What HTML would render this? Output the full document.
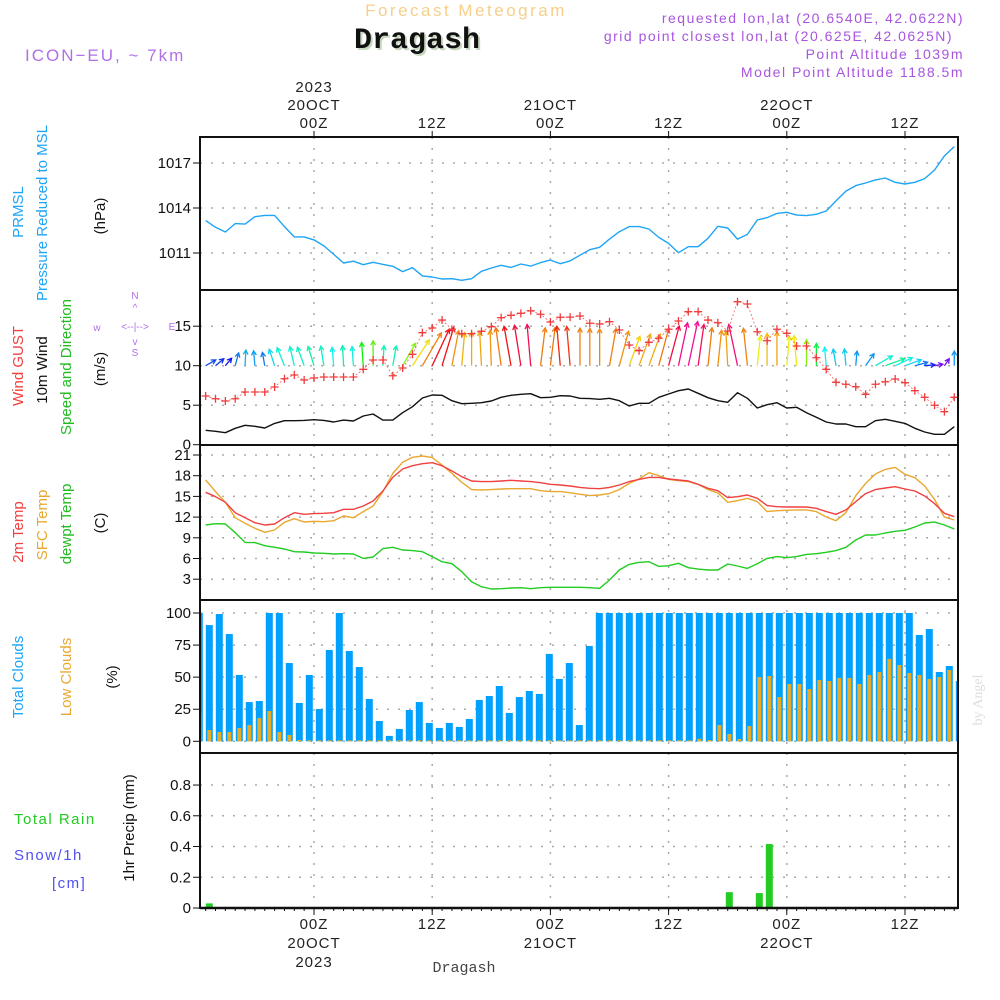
<!DOCTYPE html>
<html><head><meta charset="utf-8"><title>Forecast Meteogram - Dragash</title>
<style>
html,body{margin:0;padding:0;background:#fff;}
svg{display:block;font-family:"Liberation Sans",sans-serif;}
.tk{font-size:15px;fill:#111;}
.ax{font-size:15px;fill:#222;letter-spacing:1px;}
</style></head>
<body>
<svg id="chart" width="1000" height="1000" viewBox="0 0 1000 1000" xmlns="http://www.w3.org/2000/svg">
<rect width="1000" height="1000" fill="#fff"/>
<text x="466" y="16" text-anchor="middle" font-size="17" fill="#f6cf8a" letter-spacing="2.5">Forecast Meteogram</text>
<text x="419" y="50" text-anchor="middle" font-family="'Liberation Mono',monospace" font-weight="bold" font-size="30" fill="#c8d8c0">Dragash</text>
<text x="417" y="48" text-anchor="middle" font-family="'Liberation Mono',monospace" font-weight="bold" font-size="30" fill="#111">Dragash</text>
<text x="25" y="61" font-size="17" fill="#b070e8" letter-spacing="2">ICON−EU, ~ 7km</text>
<g font-size="14" fill="#a855e0" text-anchor="end" letter-spacing="1.5">
<text x="964" y="23">requested lon,lat (20.6540E, 42.0622N)</text>
<text x="953" y="41">grid point closest lon,lat (20.625E, 42.0625N)</text>
<text x="964" y="59">Point Altitude 1039m</text>
<text x="964" y="77">Model Point Altitude 1188.5m</text>
</g>
<g id="grid"></g>
<g id="marks"></g>
<g id="frames"></g>
<g id="labels"></g>
<g font-size="15">
<text transform="translate(23,212) rotate(-90)" text-anchor="middle" fill="#1ea5f5">PRMSL</text>
<text transform="translate(47,213) rotate(-90)" text-anchor="middle" fill="#1ea5f5">Pressure Reduced to MSL</text>
<text transform="translate(105,216) rotate(-90)" text-anchor="middle" fill="#111">(hPa)</text>
</g>
<g font-size="15">
<text transform="translate(23,366) rotate(-90)" text-anchor="middle" fill="#f04040">Wind GUST</text>
<text transform="translate(47,370) rotate(-90)" text-anchor="middle" fill="#111">10m Wind</text>
<text transform="translate(71,367) rotate(-90)" text-anchor="middle" fill="#22bb22">Speed and Direction</text>
<text transform="translate(105,369) rotate(-90)" text-anchor="middle" fill="#111">(m/s)</text>
</g>
<g font-size="10" fill="#b070e8" text-anchor="middle">
<text x="135" y="299">N</text>
<text x="135" y="311">^</text>
<text x="97" y="331">w</text>
<text x="135" y="330">&lt;--|--&gt;</text>
<text x="172" y="330">E</text>
<text x="135" y="345">v</text>
<text x="135" y="356">S</text>
</g>
<g font-size="15">
<text transform="translate(23,532) rotate(-90)" text-anchor="middle" fill="#f04040">2m Temp</text>
<text transform="translate(47,525) rotate(-90)" text-anchor="middle" fill="#e8a830">SFC Temp</text>
<text transform="translate(71,524) rotate(-90)" text-anchor="middle" fill="#22bb22">dewpt Temp</text>
<text transform="translate(105,523) rotate(-90)" text-anchor="middle" fill="#111">(C)</text>
</g>
<g font-size="15">
<text transform="translate(23,677) rotate(-90)" text-anchor="middle" fill="#1ea5f5">Total Clouds</text>
<text transform="translate(71,677) rotate(-90)" text-anchor="middle" fill="#e8a830">Low Clouds</text>
<text transform="translate(117,677) rotate(-90)" text-anchor="middle" fill="#111">(%)</text>
</g>
<g>
<text transform="translate(134,828) rotate(-90)" text-anchor="middle" font-size="15" fill="#111">1hr Precip (mm)</text>
<text x="14" y="824" font-size="15" fill="#22cc22" letter-spacing="1.5">Total  Rain</text>
<text x="14" y="860" font-size="15" fill="#5050f0" letter-spacing="1.5">Snow/1h</text>
<text x="52" y="888" font-size="15" fill="#5050f0" letter-spacing="1.5">[cm]</text>
</g>
<text x="464" y="972" text-anchor="middle" font-family="'Liberation Mono',monospace" font-size="15" fill="#444">Dragash</text>
<text transform="translate(982,700) rotate(-90)" text-anchor="middle" font-family="'Liberation Serif',serif" font-size="14" fill="#ddd">by Angel</text>
</svg>
<script>
// ---------- data ----------
const hourStart = -11; // hours relative to 00Z 20OCT2023
const pressure = [1013.16,1012.71,1012.4,1012.96,1012.93,1013.42,1013.51,1013.51,1012.76,1012.07,1012.07,1011.87,1011.47,1010.91,1010.33,1010.45,1010.22,1010.38,1010.24,1010.11,1009.76,1010.02,1009.47,1009.4,1009.27,1009.29,1009.18,1009.29,1009.78,1010.0,1010.18,1010.04,1010.27,1010.13,1010.36,1010.53,1010.29,1010.47,1010.85,1011.22,
1011.38,1011.93,1012.42,1012.76,1012.76,1012.6,1012.04,1011.64,1011.02,1011.42,1011.42,1011.98,1012.78,1012.67,1011.93,1012.24,1013.2,1013.36,1013.64,1013.71,1013.53,1013.49,1013.58,1013.8,1014.47,1015.13,1015.49,1015.67,1015.87,1016.0,1015.71,1015.6,1015.71,1015.96,1016.53,1017.47,1018.09];
const wind10 = [1.82,1.69,1.52,2.07,2.45,2.33,2.11,2.7,3.04,3.04,3.08,3.16,3.08,2.87,3.12,3.0,3.63,3.89,3.12,3.12,4.05,4.81,5.91,6.29,6.25,5.57,5.19,5.24,5.32,5.53,6.0,6.25,6.38,6.46,5.95,6.0,6.2,6.16,5.87,5.83,
5.75,5.87,5.57,4.9,5.24,5.24,6.0,6.42,6.84,7.05,6.5,5.95,5.57,5.37,6.58,5.87,4.65,5.06,5.32,4.65,4.73,4.05,3.47,2.87,2.62,2.62,2.28,2.28,3.04,3.21,2.96,2.7,2.07,1.61,1.32,1.32,2.28];
const gust = [6.16,5.82,5.53,5.82,6.67,6.67,6.67,7.3,8.35,8.82,8.19,8.44,8.57,8.57,8.57,8.57,9.54,10.72,10.72,8.73,9.71,11.44,14.18,14.77,15.78,14.6,14.05,14.05,14.35,14.94,16.08,16.38,16.63,16.96,16.51,15.53,16.13,16.15,16.29,15.37,
15.28,15.57,14.52,12.62,11.9,12.96,13.47,14.61,15.66,16.84,16.84,15.78,15.44,14.39,18.1,17.81,14.3,13.16,14.61,14.1,12.49,12.49,11.01,9.54,7.9,7.65,7.34,6.38,7.65,7.97,8.32,7.85,6.84,6.0,4.99,4.18,6.0];
const windDir = [60,50,40,15,3,-5,-10,-18,-22,-13,-20,-17,-9,-5,-3,-4,-4,0,3,10,30,33,30,25,17,11,5,0,-3,-2,-8,-10,-9,-5,7,7,-5,-5,0,0,
0,10,15,20,20,20,15,15,12,12,8,6,6,-3,-12,-6,6,0,0,5,-5,0,0,-5,-10,-5,5,35,60,70,65,70,75,85,80,35,0];
const t2m = [15.59,14.96,14.14,12.64,11.92,11.19,10.86,11.0,11.92,12.64,12.4,12.5,12.55,12.64,13.13,13.13,13.61,14.33,15.78,17.76,18.97,19.45,19.74,19.89,19.45,18.68,17.86,17.23,17.14,17.14,17.23,17.33,17.23,17.14,16.99,16.75,16.65,16.51,16.31,16.17,
16.12,16.31,16.65,17.14,17.47,17.76,17.76,17.52,17.38,17.23,16.75,16.17,15.83,14.82,14.96,15.2,14.72,13.66,13.51,13.46,13.46,13.46,13.27,12.79,12.4,13.04,14.24,15.4,15.98,16.22,16.41,16.07,15.78,15.06,13.95,12.55,12.06];
const tsfc = [17.38,15.69,14.14,11.92,11.1,10.37,9.8,10.13,11.24,11.77,11.29,11.39,11.34,11.48,12.16,11.92,12.79,13.61,15.69,18.34,19.94,20.66,20.86,20.62,19.55,18.34,17.04,15.98,15.93,15.98,16.07,16.12,16.12,16.12,15.83,15.69,15.69,15.54,15.3,15.11,
15.2,15.44,15.98,16.89,17.52,18.44,18.0,17.47,17.28,17.14,16.75,15.98,15.5,14.14,14.38,14.72,14.24,12.79,12.93,12.98,13.04,13.04,12.79,12.01,11.48,12.64,15.11,16.89,18.25,18.92,19.21,18.2,17.71,16.51,14.57,12.0,11.58];
const dewpt = [10.86,11.05,11.0,9.74,8.34,8.3,7.86,7.62,7.38,6.99,6.94,6.8,6.75,6.65,6.7,6.65,6.02,6.22,7.43,7.62,7.23,7.14,6.99,6.27,5.54,5.25,4.09,2.64,1.92,1.58,1.63,1.72,1.77,1.63,1.77,1.82,1.82,1.82,1.82,1.77,
1.68,2.88,4.33,5.15,5.44,5.54,4.86,4.96,5.3,4.67,4.47,4.33,4.33,5.2,4.91,4.57,5.25,6.02,6.27,6.12,6.27,6.6,6.7,6.9,7.14,7.62,8.68,9.41,9.41,9.7,9.94,10.09,10.57,11.14,11.28,10.86,10.28];
const totalCloud = [100,90.6,99.2,83.6,51.7,30.6,31.4,100,100,61,29.9,51.7,25.2,71.2,100,70.4,57.9,33,15.8,4.2,9.6,24.4,30.6,14.3,10.4,14.3,11.2,17.4,32.2,35.3,43.1,22.1,34.5,39.2,36.9,68.1,48.6,61,12.7,74.3,
100,100,100,100,100,100,100,100,100,100,100,100,100,100,100,100,100,100,100,100,100,100,100,100,100,100,100,100,100,100,100,100,82.9,87.5,54,58.7,47];
const lowCloud = [22.1,8.8,7.3,7.3,10.4,12.7,18.2,23.6,7.3,4.9,1,0,0,0,0,0,0,0,0,0,0,0,0,0,0,0,0,0,0,0,0,0,0,0,0,0,0,0,0,0,
0,0,0,0,0,0,0,0,0,0,2,1,12.7,5.7,1.8,11.9,50.1,50.9,34.5,44.7,44.7,40.8,47.8,47,49.4,49.4,44.7,51.7,54,64.2,59.5,53.2,51.7,48.6,50.1,55.6,47];
const precip = [0,0.03,0,0,0,0,0,0,0,0,0,0,0,0,0,0,0,0,0,0,0,0,0,0,0,0,0,0,0,0,0,0,0,0,0,0,0,0,0,0,
0,0,0,0,0,0,0,0,0,0,0,0,0,0.103,0.008,0,0.097,0.416,0,0,0,0,0,0,0,0,0,0,0,0,0,0,0,0,0,0,0];
const pTicks = [1011,1014,1017];
const wTicks = [0,5,10,15];
const tTicks = [3,6,9,12,15,18,21];
const cTicks = [0,25,50,75,100];
const rTicks = [0,0.2,0.4,0.6,0.8];
const timeTicks = [0,12,24,36,48,60];
const timeLabels = ["00Z","12Z","00Z","12Z","00Z","12Z"];
const dayLabels = ["20OCT","","21OCT","","22OCT",""];

// ---------- layout / axes ----------
const L=200,R=958;
const P={p:[137,290],w:[290,445],t:[445,600],c:[600,753],r:[753,908]};
const xH = h => 314 + h*9.85;
const xI = i => xH(hourStart + i);
const xB = i => 199.3 + i*10;
const yP = v => 163 + (1017 - v)*15;
const yW = v => 444.7 - v*7.9;
const yT = v => 455 + (21 - v)*6.9;
const yC = v => 741.3 - v*1.283;
const yR = v => 908 - v*153.7;
const NS="http://www.w3.org/2000/svg";
function mk(tag, attrs, parent){const e=document.createElementNS(NS,tag);for(const k in attrs)e.setAttribute(k,attrs[k]);parent.appendChild(e);return e;}
const grid=document.getElementById('grid'), marks=document.getElementById('marks'), frames=document.getElementById('frames'), labels=document.getElementById('labels');

const defs=mk('defs',{},document.getElementById('chart'));
const cp=mk('clipPath',{id:'plotclip'},defs);
mk('rect',{x:L,y:137,width:R-L,height:771},cp);
marks.setAttribute('clip-path','url(#plotclip)');

function yAxis(ticks, yf, panel, fmt, name){
  ticks.forEach(v=>{
    const y=yf(v);
    if(y>panel[0]+2 && y<panel[1]-2){
      const g=mk('line',{x1:L,x2:R,y1:y,y2:y,stroke:'#aaa','stroke-width':1.5,'stroke-dasharray':'2,9'},grid);
      
      
    }
    const t=mk('line',{x1:L-7,x2:L,y1:y,y2:y,stroke:'#111','stroke-width':1},labels);
    
    
    const tx=mk('text',{x:L-9,y:y+5,'text-anchor':'end',class:'tk'},labels);
    tx.textContent=fmt(v);
    
    
  });
}
yAxis(pTicks,yP,P.p,v=>v,'pressure-axis');
yAxis(wTicks,yW,P.w,v=>v,'wind-axis');
yAxis(tTicks,yT,P.t,v=>v,'temp-axis');
yAxis(cTicks,yC,P.c,v=>v,'cloud-axis');
yAxis(rTicks,yR,P.r,v=>v===0?'0':v.toFixed(1),'precip-axis');

timeTicks.forEach((h,k)=>{
  const x=xH(h);
  const g=mk('line',{x1:x,x2:x,y1:137,y2:908,stroke:'#aaa','stroke-width':1.5,'stroke-dasharray':'2,9'},grid);
  
  
  mk('line',{x1:x,x2:x,y1:131,y2:137,stroke:'#111'},labels);
  mk('line',{x1:x,x2:x,y1:908,y2:915,stroke:'#111'},labels);
  const a=mk('text',{x:x,y:128,'text-anchor':'middle',class:'ax'},labels); a.textContent=timeLabels[k];
  
  
  const b=mk('text',{x:x,y:929,'text-anchor':'middle',class:'ax'},labels); b.textContent=timeLabels[k];
  
  
  if(dayLabels[k]){
    const c=mk('text',{x:x,y:110,'text-anchor':'middle',class:'ax'},labels); c.textContent=dayLabels[k];
    
    
    const d=mk('text',{x:x,y:948,'text-anchor':'middle',class:'ax'},labels); d.textContent=dayLabels[k];
    
    
  }
});
const y1=mk('text',{x:xH(0),y:92,'text-anchor':'middle',class:'ax'},labels); y1.textContent='2023';


const y2=mk('text',{x:xH(0),y:967,'text-anchor':'middle',class:'ax'},labels); y2.textContent='2023';


for(let h=-11;h<=65;h++){ mk('line',{x1:xH(h),x2:xH(h),y1:908,y2:911,stroke:'#111','stroke-width':1},labels); }

function line(arr, xf, yf, color, width, name, dash){
  const pts=arr.map((v,i)=>xf(i).toFixed(1)+','+yf(v).toFixed(1)).join(' ');
  const a={points:pts,fill:'none',stroke:color,'stroke-width':width,'stroke-linejoin':'round'};
  if(dash)a['stroke-dasharray']=dash;
  const e=mk('polyline',a,marks);
  
  
  return e;
}
line(pressure,xI,yP,'#1ea5f5',1.4,'pressure-line');

totalCloud.forEach((v,i)=>{
  const x=xB(i), y=yC(v);
  const r=mk('rect',{x:x-3.5,y:y,width:7,height:yC(0)-y,fill:'#00a0ff'},marks);
  
  
});
lowCloud.forEach((v,i)=>{
  const x=xB(i), y=yC(v);
  const r=mk('rect',{x:x-2,y:Math.min(y,yC(0)-1),width:4,height:Math.max(yC(0)-y,1),fill:'#e8ac2c'},marks);
  
  
});
precip.forEach((v,i)=>{
  if(v<=0)return;
  const x=xB(i), y=yR(v);
  const r=mk('rect',{x:x-3.5,y:y,width:7,height:yR(0)-y,fill:'#22cc22'},marks);
  
  
});

line(tsfc,xI,yT,'#e8a830',1.4,'sfc-temp-line');
line(t2m,xI,yT,'#f04040',1.4,'2m-temp-line');
line(dewpt,xI,yT,'#22cc22',1.4,'dewpoint-line');

const stops=[[1.3,270],[1.5,240],[2,215],[2.5,195],[3,175],[3.5,130],[4,90],[4.8,55],[5.3,40],[6.0,28],[6.25,0],[6.6,-30],[7.2,-40]];
function hue(s){ if(s<=stops[0][0])return stops[0][1]; for(let k=1;k<stops.length;k++){ if(s<=stops[k][0]){const a=stops[k-1],b=stops[k];return a[1]+(b[1]-a[1])*(s-a[0])/(b[0]-a[0]);} } return stops[stops.length-1][1]; }
windDir.forEach((d,i)=>{
  const s=wind10[i], len=s*6.4, r=d*Math.PI/180;
  const x0=xI(i), yb=yW(10);
  const x1=x0+len*Math.sin(r), y1=yb-len*Math.cos(r);
  const hh=(hue(s)+360)%360;
  const col='hsl('+hh.toFixed(0)+',88%,50%)';
  const g=mk('g',{stroke:col,'stroke-width':1.3,fill:'none'},marks);
  
  
  mk('line',{x1:x0,y1:yb,x2:x1,y2:y1},g);
  const hl=5, a1=r+Math.PI-0.5, a2=r+Math.PI+0.5;
  mk('polyline',{points:(x1+hl*Math.sin(a1))+','+(y1-hl*Math.cos(a1))+' '+x1+','+y1+' '+(x1+hl*Math.sin(a2))+','+(y1-hl*Math.cos(a2))},g);
});
line(wind10,xI,yW,'#111',1.4,'wind-10m-line');
line(gust,xI,yW,'#f06060',0.8,'gust-line','2,2');
gust.forEach((v,i)=>{
  const x=xI(i), y=yW(v);
  const g=mk('path',{d:'M'+(x-4)+' '+y+'H'+(x+4)+'M'+x+' '+(y-4)+'V'+(y+4),stroke:'#f03c3c','stroke-width':1.3},marks);
  
  
});

[P.p,P.w,P.t,P.c,P.r].forEach((p,k)=>{
  const f=mk('rect',{x:L,y:p[0],width:R-L,height:p[1]-p[0],fill:'none',stroke:'#111','stroke-width':2},frames);
  
  
});
mk('line',{x1:L,x2:R,y1:908,y2:908,stroke:'#111','stroke-width':2.5},frames);
</script>
</body></html>
